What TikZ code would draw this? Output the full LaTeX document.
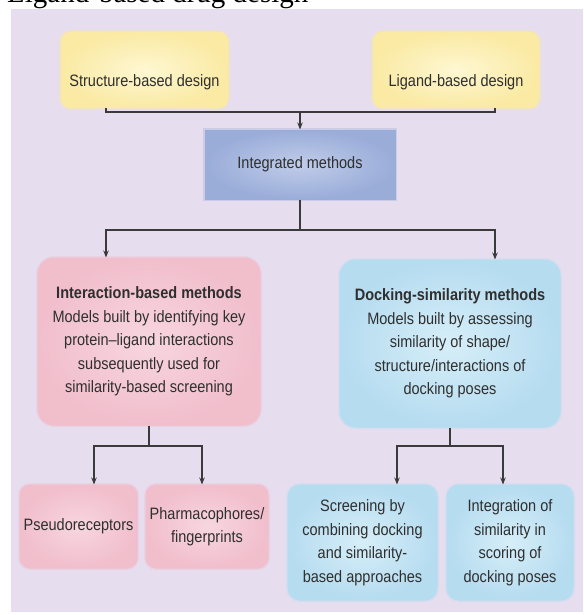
\documentclass[tikz,border=0pt]{standalone}
\usepackage{fontspec}
\setmainfont{Liberation Sans}[FakeStretch=0.88]
\newfontfamily\cutserif{Liberation Serif}
\usetikzlibrary{arrows.meta}
\definecolor{bgpanel}{HTML}{E6DEEF}
\definecolor{txtgray}{HTML}{2F2F2F}
\definecolor{linegray}{HTML}{3A3A3A}
\definecolor{ylwin}{HTML}{FEF7D2}
\definecolor{ylwout}{HTML}{FAEAA4}
\definecolor{imin}{HTML}{C0CCE9}
\definecolor{imout}{HTML}{9AADD9}
\definecolor{pkin}{HTML}{F7D6DF}
\definecolor{pkout}{HTML}{F1BECC}
\definecolor{blin}{HTML}{D6EEF8}
\definecolor{blout}{HTML}{B6DCF0}
\begin{document}
\begin{tikzpicture}[x=1pt,y=-1pt,
  txt/.style={text=txtgray, font=\fontsize{16.5}{23.5}\selectfont, align=center, inner sep=0pt},
  halo/.style={preaction={draw=#1, line width=4pt, opacity=0.35}},
  ybox/.style={txt, rounded corners=10pt, inner color=ylwin, outer color=ylwout, draw=ylwout, line width=1pt, halo=ylwout},
  ibox/.style={txt, inner color=imin, outer color=imout, draw=imout, line width=1pt, halo=imout},
  pbox/.style={txt, inner color=pkin, outer color=pkout, draw=pkout, line width=1pt, halo=pkout},
  bbox/.style={txt, inner color=blin, outer color=blout, draw=blout, line width=1pt, halo=blout},
  conn/.style={draw=linegray, line width=1.3pt},
  arr/.style={conn, -{Stealth[length=7pt,width=5.5pt]}}
]
\useasboundingbox (0,0) rectangle (583,615);
% cut-off caption line at the very top (only its lower edge shows)
\begin{scope}
  \clip (0,0) rectangle (583,9);
  \node[anchor=base west, inner sep=0pt, font=\cutserif\fontsize{29}{29}\selectfont] (cut) at (7,3) {Ligand-based drug design};
\end{scope}
% panel
\fill[bgpanel] (11,9) rectangle (583,612);

% top row
\node[ybox, minimum width=167pt, text height=55pt, text depth=21pt] (sbd) at (144.5,70) {Structure-based design};
\node[ybox, minimum width=166pt, text height=55pt, text depth=21pt] (lbd) at (456,70) {Ligand-based design};

% integrated
\node[ibox, minimum width=190pt, minimum height=69pt] (im) at (300,164.5) {Integrated methods};

% middle row
\node[pbox, rounded corners=16pt, minimum width=222pt, minimum height=167pt] (ib) at (149,341.5)
  {\textbf{Interaction-based methods}\\Models built by identifying key\\protein--ligand interactions\\subsequently used for\\similarity-based screening};
\node[bbox, rounded corners=16pt, minimum width=220pt, minimum height=167pt] (db) at (450,343.5)
  {\textbf{Docking-similarity methods}\\Models built by assessing\\similarity of shape/\\structure/interactions of\\docking poses};

% bottom row
\node[pbox, rounded corners=10pt, minimum width=117pt, minimum height=83pt] (ps) at (78.5,526.5) {Pseudoreceptors};
\node[pbox, rounded corners=10pt, minimum width=122pt, minimum height=83pt] (ph) at (207,526.5) {Pharmacophores/\\fingerprints};
\node[bbox, rounded corners=12pt, minimum width=149pt, minimum height=115pt] (sc) at (362.5,542.5)
  {Screening by\\combining docking\\and similarity-\\based approaches};
\node[bbox, rounded corners=12pt, minimum width=126pt, minimum height=115pt] (ig) at (510,542.5)
  {Integration of\\similarity in\\scoring of\\docking poses};

% helper coordinates
\coordinate (xL) at (106,0);
\coordinate (xR) at (495,0);
\coordinate (j1) at (300,112);
\coordinate (j2) at (300,230);
\coordinate (xa) at (94,0);
\coordinate (xb) at (202,0);
\coordinate (xc) at (397,0);
\coordinate (xd) at (503,0);
\coordinate (y3) at (0,446);

% connectors
\draw[conn] (sbd.south -| xL) |- (j1);
\draw[conn] (lbd.south -| xR) |- (j1);
\draw[arr] (j1) -- (im.north);
\draw[conn] (im.south) -- (j2);
\draw[arr] (j2) -| (ib.north -| xL);
\draw[arr] (j2) -| (db.north -| xR);

\draw[conn] (ib.south) -- (ib.south |- y3);
\draw[arr] (ib.south |- y3) -| (ps.north -| xa);
\draw[arr] (ib.south |- y3) -| (ph.north -| xb);

\draw[conn] (db.south) -- (db.south |- y3);
\draw[arr] (db.south |- y3) -| (sc.north -| xc);
\draw[arr] (db.south |- y3) -| (ig.north -| xd);
\end{tikzpicture}
\end{document}
